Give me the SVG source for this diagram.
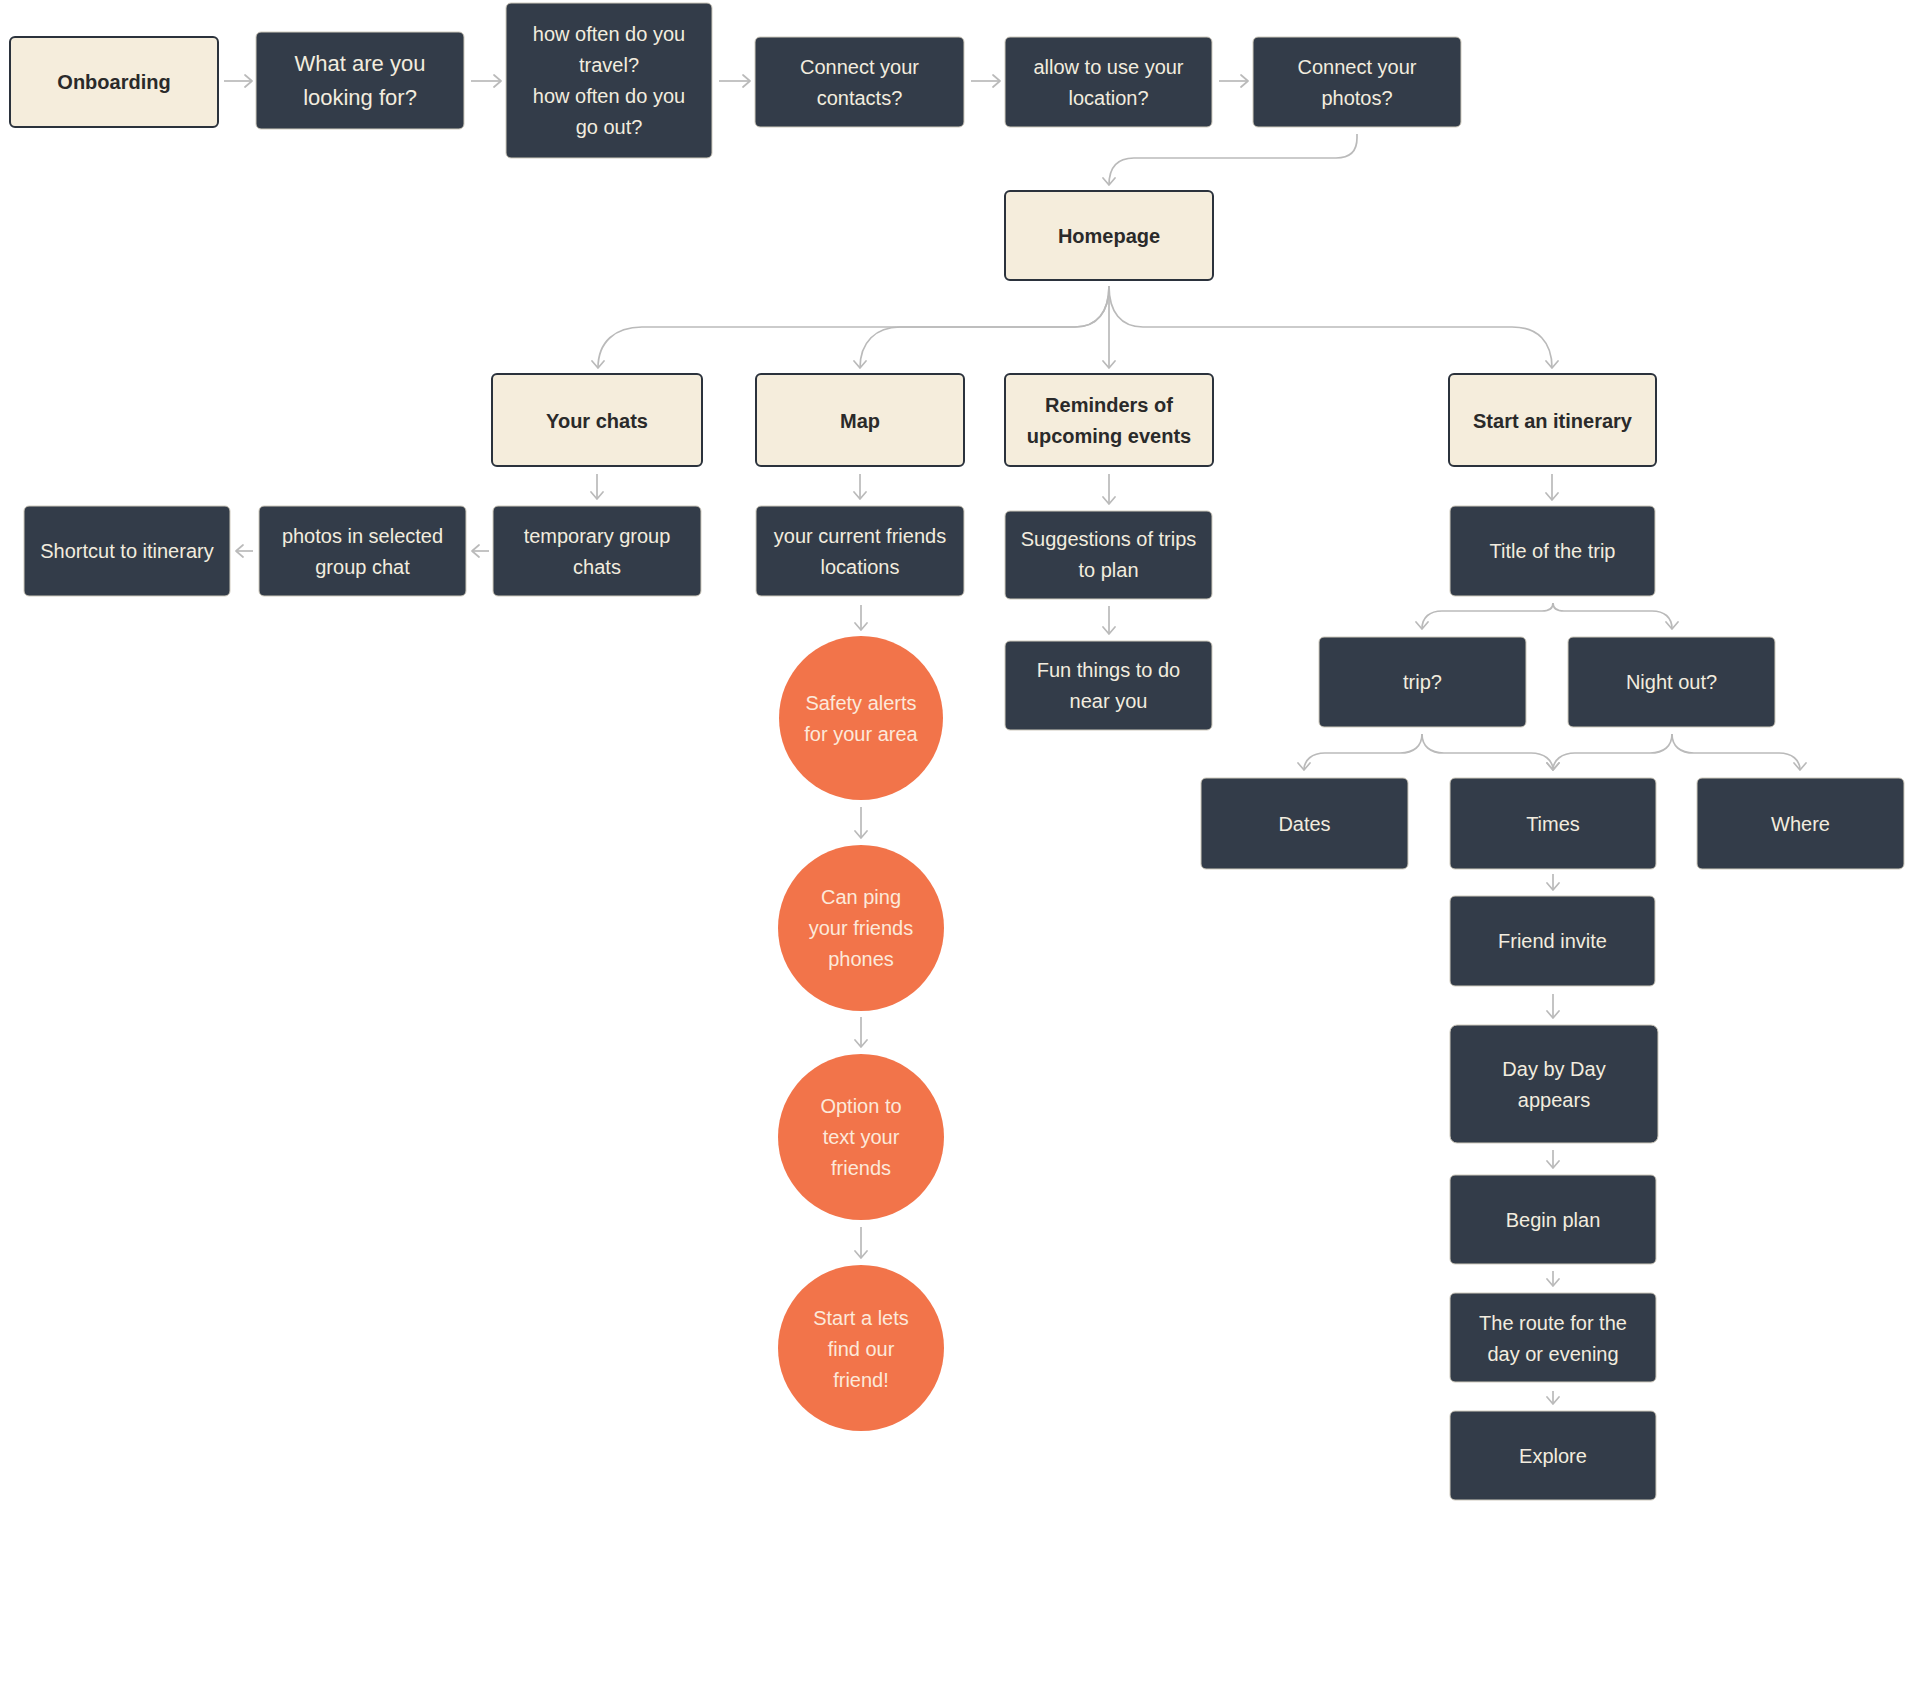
<svg xmlns="http://www.w3.org/2000/svg" width="1906" height="1685" viewBox="0 0 1906 1685">
<defs>
<marker id="ah" viewBox="0 0 10 14" refX="9" refY="7" markerWidth="10" markerHeight="14" markerUnits="userSpaceOnUse" orient="auto">
<path d="M2,1 L9,7 L2,13" fill="none" stroke="#bababa" stroke-width="1.7" stroke-linecap="round" stroke-linejoin="round"/>
</marker>
</defs>
<style>
.cream{fill:#f5eddc;stroke:#2b323c;stroke-width:2}
.dark{fill:#333c49;stroke:#cfcabd;stroke-width:1}
.orange{fill:#f2744a}
.tb{font-family:"Liberation Sans",Arial,sans-serif;font-size:20px;font-weight:bold;fill:#2a2a2a;text-anchor:middle}
.tl{font-family:"Liberation Sans",Arial,sans-serif;font-size:20px;fill:#f2ecdf;text-anchor:middle}
.to{font-family:"Liberation Sans",Arial,sans-serif;font-size:20px;fill:#fce9da;text-anchor:middle}
.c{fill:none;stroke:#bababa;stroke-width:1.7;marker-end:url(#ah)}
</style>
<rect width="1906" height="1685" fill="#ffffff"/>
<g id="connectors">
<path class="c" d="M224,81 H252"/>
<path class="c" d="M471,81 H501"/>
<path class="c" d="M719,81 H750"/>
<path class="c" d="M971,81 H1000"/>
<path class="c" d="M1219,81 H1248"/>
<path class="c" d="M1357,134 V138 C1357,151 1350,158 1336,158 H1134 C1118,158 1109,166 1109,185"/>
<path class="c" d="M1109,286 C1109,312 1097,327 1075,327 H642 C615,327 598,342 598,368"/>
<path class="c" d="M1109,286 C1109,312 1097,327 1075,327 H900 C876,327 860,342 860,368"/>
<path class="c" d="M1109,286 V368"/>
<path class="c" d="M1109,286 C1109,312 1121,327 1143,327 H1512 C1538,327 1552,342 1552,368"/>
<path class="c" d="M597,474 V499"/>
<path class="c" d="M860,474 V499"/>
<path class="c" d="M1109,474 V504"/>
<path class="c" d="M1552,474 V500"/>
<path class="c" d="M489,551 H472"/>
<path class="c" d="M253,551 H236"/>
<path class="c" d="M861,605 V630"/>
<path class="c" d="M861,807 V838"/>
<path class="c" d="M861,1017 V1047"/>
<path class="c" d="M861,1227 V1258"/>
<path class="c" d="M1109,606 V634"/>
<path class="c" d="M1553,603 C1553,608 1549,611 1542,611 H1442 C1430,611 1422,617 1422,629"/>
<path class="c" d="M1553,603 C1553,608 1557,611 1564,611 H1652 C1664,611 1672,617 1672,629"/>
<path class="c" d="M1422,734 C1422,746 1414,753 1400,753 H1325 C1312,753 1304,760 1304,770"/>
<path class="c" d="M1422,734 C1422,746 1430,753 1444,753 H1531 C1544,753 1553,760 1553,770"/>
<path class="c" d="M1672,734 C1672,746 1664,753 1650,753 H1575 C1562,753 1553,760 1553,770"/>
<path class="c" d="M1672,734 C1672,746 1680,753 1694,753 H1779 C1792,753 1800,760 1800,770"/>
<path class="c" d="M1553,874 V890"/>
<path class="c" d="M1553,994 V1018"/>
<path class="c" d="M1553,1150 V1168"/>
<path class="c" d="M1553,1271 V1286"/>
<path class="c" d="M1553,1391 V1404"/>
</g>
<g id="n-onboarding"><rect class="cream" x="10" y="37" width="208" height="90" rx="5"/><text class="tb" x="114" y="89">Onboarding</text></g>
<g id="n-looking"><rect class="dark" x="256" y="32" width="208" height="97" rx="5"/><text class="tl" style="font-size:22px" x="360" y="71">What are you</text><text class="tl" style="font-size:22px" x="360" y="105">looking for?</text></g>
<g id="n-howoften"><rect class="dark" x="506" y="3" width="206" height="155" rx="5"/><text class="tl" x="609" y="41">how often do you</text><text class="tl" x="609" y="72">travel?</text><text class="tl" x="609" y="103">how often do you</text><text class="tl" x="609" y="134">go out?</text></g>
<g id="n-contacts"><rect class="dark" x="755" y="37" width="209" height="90" rx="5"/><text class="tl" x="859.5" y="74">Connect your</text><text class="tl" x="859.5" y="105">contacts?</text></g>
<g id="n-location"><rect class="dark" x="1005" y="37" width="207" height="90" rx="5"/><text class="tl" x="1108.5" y="74">allow to use your</text><text class="tl" x="1108.5" y="105">location?</text></g>
<g id="n-photos"><rect class="dark" x="1253" y="37" width="208" height="90" rx="5"/><text class="tl" x="1357" y="74">Connect your</text><text class="tl" x="1357" y="105">photos?</text></g>
<g id="n-homepage"><rect class="cream" x="1005" y="191" width="208" height="89" rx="5"/><text class="tb" x="1109" y="242.5">Homepage</text></g>
<g id="n-yourchats"><rect class="cream" x="492" y="374" width="210" height="92" rx="5"/><text class="tb" x="597" y="427.5">Your chats</text></g>
<g id="n-map"><rect class="cream" x="756" y="374" width="208" height="92" rx="5"/><text class="tb" x="860" y="427.5">Map</text></g>
<g id="n-reminders"><rect class="cream" x="1005" y="374" width="208" height="92" rx="5"/><text class="tb" x="1109" y="412">Reminders of</text><text class="tb" x="1109" y="443">upcoming events</text></g>
<g id="n-start"><rect class="cream" x="1449" y="374" width="207" height="92" rx="5"/><text class="tb" x="1552.5" y="427.5">Start an itinerary</text></g>
<g id="n-shortcut"><rect class="dark" x="24" y="506" width="206" height="90" rx="5"/><text class="tl" x="127" y="558">Shortcut to itinerary</text></g>
<g id="n-photoschat"><rect class="dark" x="259" y="506" width="207" height="90" rx="5"/><text class="tl" x="362.5" y="542.5">photos in selected</text><text class="tl" x="362.5" y="573.5">group chat</text></g>
<g id="n-tempchats"><rect class="dark" x="493" y="506" width="208" height="90" rx="5"/><text class="tl" x="597" y="542.5">temporary group</text><text class="tl" x="597" y="573.5">chats</text></g>
<g id="n-friendsloc"><rect class="dark" x="756" y="506" width="208" height="90" rx="5"/><text class="tl" x="860" y="542.5">your current friends</text><text class="tl" x="860" y="573.5">locations</text></g>
<g id="n-suggestions"><rect class="dark" x="1005" y="511" width="207" height="88" rx="5"/><text class="tl" x="1108.5" y="546">Suggestions of trips</text><text class="tl" x="1108.5" y="577">to plan</text></g>
<g id="n-title"><rect class="dark" x="1450" y="506" width="205" height="90" rx="5"/><text class="tl" x="1552.5" y="558">Title of the trip</text></g>
<g id="n-fun"><rect class="dark" x="1005" y="641" width="207" height="89" rx="5"/><text class="tl" x="1108.5" y="677">Fun things to do</text><text class="tl" x="1108.5" y="708">near you</text></g>
<g id="n-safety"><circle class="orange" cx="861" cy="718" r="82"/><text class="to" x="861" y="710">Safety alerts</text><text class="to" x="861" y="741">for your area</text></g>
<g id="n-ping"><circle class="orange" cx="861" cy="928" r="83"/><text class="to" x="861" y="904">Can ping</text><text class="to" x="861" y="935">your friends</text><text class="to" x="861" y="966">phones</text></g>
<g id="n-text"><circle class="orange" cx="861" cy="1137" r="83"/><text class="to" x="861" y="1113">Option to</text><text class="to" x="861" y="1144">text your</text><text class="to" x="861" y="1175">friends</text></g>
<g id="n-findfriend"><circle class="orange" cx="861" cy="1348" r="83"/><text class="to" x="861" y="1325">Start a lets</text><text class="to" x="861" y="1356">find our</text><text class="to" x="861" y="1387">friend!</text></g>
<g id="n-trip"><rect class="dark" x="1319" y="637" width="207" height="90" rx="5"/><text class="tl" x="1422.5" y="689">trip?</text></g>
<g id="n-nightout"><rect class="dark" x="1568" y="637" width="207" height="90" rx="5"/><text class="tl" x="1671.5" y="689">Night out?</text></g>
<g id="n-dates"><rect class="dark" x="1201" y="778" width="207" height="91" rx="5"/><text class="tl" x="1304.5" y="830.5">Dates</text></g>
<g id="n-times"><rect class="dark" x="1450" y="778" width="206" height="91" rx="5"/><text class="tl" x="1553" y="830.5">Times</text></g>
<g id="n-where"><rect class="dark" x="1697" y="778" width="207" height="91" rx="5"/><text class="tl" x="1800.5" y="830.5">Where</text></g>
<g id="n-friendinvite"><rect class="dark" x="1450" y="896" width="205" height="90" rx="5"/><text class="tl" x="1552.5" y="948">Friend invite</text></g>
<g id="n-daybyday"><rect class="dark" x="1450" y="1025" width="208" height="118" rx="7"/><text class="tl" x="1554" y="1075.5">Day by Day</text><text class="tl" x="1554" y="1106.5">appears</text></g>
<g id="n-beginplan"><rect class="dark" x="1450" y="1175" width="206" height="89" rx="5"/><text class="tl" x="1553" y="1226.5">Begin plan</text></g>
<g id="n-route"><rect class="dark" x="1450" y="1293" width="206" height="89" rx="5"/><text class="tl" x="1553" y="1330">The route for the</text><text class="tl" x="1553" y="1361">day or evening</text></g>
<g id="n-explore"><rect class="dark" x="1450" y="1411" width="206" height="89" rx="5"/><text class="tl" x="1553" y="1462.5">Explore</text></g>
</svg>
